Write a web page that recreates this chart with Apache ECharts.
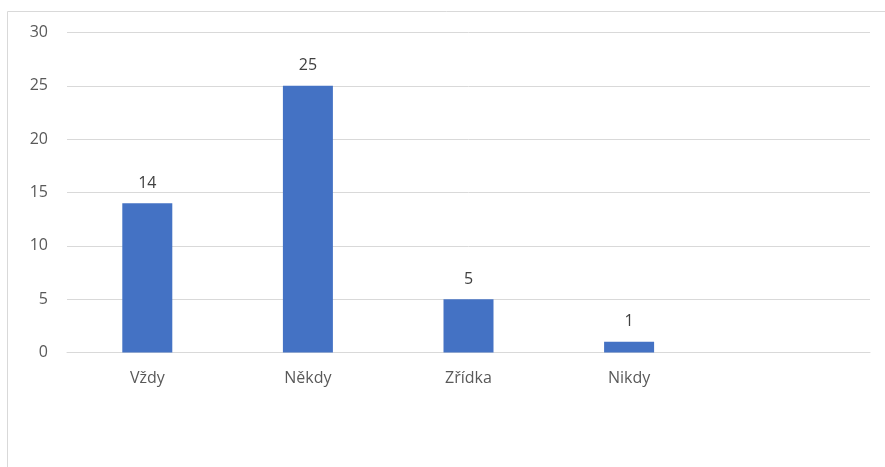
<!DOCTYPE html>
<html><head><meta charset="utf-8">
<script src="https://cdn.jsdelivr.net/npm/echarts@6/dist/echarts.min.js"></script>
<style>html,body{margin:0;padding:0;background:#fff}#c{width:885px;height:467px}</style>
</head><body><div id="c"></div>
<script>
var categories = ['Vždy', 'Někdy', 'Zřídka', 'Nikdy', ''];
var values = [14, 25, 5, 1, null];
var yTicks = [0, 5, 10, 15, 20, 25, 30];

var chart = echarts.init(document.getElementById('c'), null, {renderer: 'canvas'});
var font = '"Open Sans", sans-serif';
chart.setOption({
  animation: false,
  graphic: [{
    type: 'rect', shape: {x: 7.5, y: 11.5, width: 900, height: 480},
    style: {fill: 'none', stroke: '#d9d9d9', lineWidth: 1}, silent: true, z: -1
  }],
  grid: {left: 67, right: 15, top: 32.5, bottom: 114.5, containLabel: false},
  xAxis: {
    type: 'category', data: categories,
    axisLine: {show: true, lineStyle: {color: '#d9d9d9'}},
    axisTick: {show: false},
    axisLabel: {color: '#595959', fontFamily: font, fontSize: 16, margin: 18}
  },
  yAxis: {
    type: 'value', min: yTicks[0], max: yTicks[yTicks.length - 1], interval: 5,
    axisLine: {show: false}, axisTick: {show: false},
    splitLine: {lineStyle: {color: '#d9d9d9'}},
    axisLabel: {color: '#595959', fontFamily: font, fontSize: 16, margin: 19}
  },
  series: [{
    type: 'bar', data: values, barWidth: 50,
    itemStyle: {color: '#4472c4'},
    label: {show: true, position: 'top', color: '#404040', fontFamily: font, fontSize: 16, distance: 12}
  }]
});
</script></body></html>
